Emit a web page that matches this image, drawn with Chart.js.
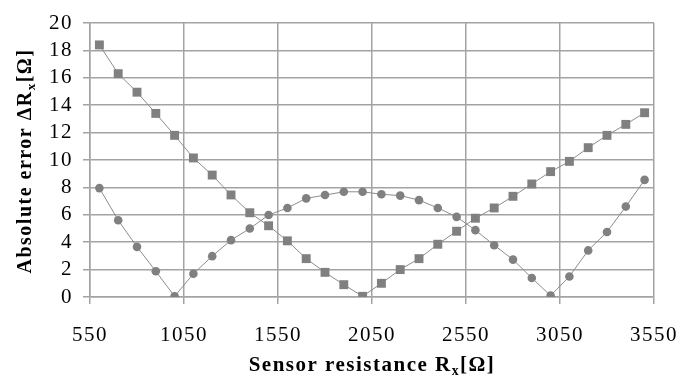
<!DOCTYPE html>
<html>
<head>
<meta charset="utf-8">
<script src="https://cdn.jsdelivr.net/npm/chart.js@4"></script>
<style>
  html, body { margin: 0; padding: 0; background: #fff; }
  #wrap { width: 681px; height: 378px; }
</style>
</head>
<body>
<div id="wrap"><canvas id="errChart"></canvas></div>
<script>
// resistance values (Ohm)
const resistance = [600, 700, 800, 900, 1000, 1100, 1200, 1300, 1400, 1500,
    1600, 1700, 1800, 1900, 2000, 2100, 2200, 2300, 2400, 2500,
    2600, 2700, 2800, 2900, 3000, 3100, 3200, 3300, 3400, 3500];

// absolute error, square markers
const errSquare = [18.4, 16.3, 14.95, 13.4, 11.8, 10.15, 8.9, 7.45, 6.15, 5.2,
    4.1, 2.8, 1.8, 0.9, 0.05, 1.0, 2.0, 2.8, 3.85, 4.8,
    5.75, 6.5, 7.35, 8.25, 9.15, 9.9, 10.9, 11.8, 12.6, 13.45];

// absolute error, circle markers
const errCircle = [7.95, 5.6, 3.66, 1.88, 0.05, 1.7, 2.98, 4.15, 5.0, 5.98,
    6.5, 7.2, 7.44, 7.68, 7.68, 7.5, 7.4, 7.07, 6.5, 5.85,
    4.88, 3.78, 2.73, 1.39, 0.1, 1.5, 3.4, 4.75, 6.6, 8.55];

const xTicks = [550, 1050, 1550, 2050, 2550, 3050, 3550];
const yTicks = [0, 2, 4, 6, 8, 10, 12, 14, 16, 18, 20];

const gridCol = '#a3a3a3';
const markCol = '#808080';
const serif = '"Liberation Serif", "Times New Roman", serif';

function toPoints(ys) {
    return resistance.map((x, i) => ({ x: x, y: ys[i] }));
}

// draw axis titles with a subscript x
function drawSubTitle(ctx, parts, size) {
    let total = 0;
    parts.forEach(p => {
        ctx.font = 'bold ' + (p.sub ? size * 0.65 : size) + 'px ' + serif;
        p.w = ctx.measureText(p.t).width;
        total += p.w;
    });
    let x = -total / 2;
    parts.forEach(p => {
        ctx.font = 'bold ' + (p.sub ? size * 0.65 : size) + 'px ' + serif;
        ctx.fillText(p.t, x, p.sub ? size * 0.28 : 0);
        x += p.w;
    });
}

const titlePlugin = {
    id: 'axisTitles',
    beforeDraw(chart) {
        // the scanned tick labels are spaced out a bit
        chart.ctx.letterSpacing = '1.5px';
    },
    afterDraw(chart) {
        const ctx = chart.ctx;
        ctx.save();
        ctx.fillStyle = '#000';
        ctx.textBaseline = 'middle';
        ctx.textAlign = 'left';
        ctx.letterSpacing = '1.5px';

        ctx.save();
        ctx.translate(372, 366);
        drawSubTitle(ctx, [{ t: 'Sensor resistance R' }, { t: 'x', sub: true }, { t: '[Ω]' }], 21);
        ctx.restore();

        ctx.save();
        ctx.translate(26, 161);
        ctx.rotate(-Math.PI / 2);
        drawSubTitle(ctx, [{ t: 'Absolute error ΔR' }, { t: 'x', sub: true }, { t: '[Ω]' }], 20);
        ctx.restore();

        ctx.restore();
        ctx.letterSpacing = '0px';
    }
};

new Chart(document.getElementById('errChart'), {
    type: 'line',
    data: {
        datasets: [{
            label: 'square',
            data: toPoints(errSquare),
            borderColor: '#8c8c8c',
            borderWidth: 1,
            pointStyle: 'rect',
            pointRadius: 6.3,
            pointBackgroundColor: markCol,
            pointBorderColor: markCol,
            pointBorderWidth: 0
        }, {
            label: 'circle',
            data: toPoints(errCircle),
            borderColor: '#8c8c8c',
            borderWidth: 1,
            pointStyle: 'circle',
            pointRadius: 4.3,
            pointBackgroundColor: markCol,
            pointBorderColor: markCol,
            pointBorderWidth: 0
        }]
    },
    options: {
        responsive: true,
        maintainAspectRatio: false,
        animation: false,
        layout: { padding: { top: 23, right: 27, left: 0, bottom: 0 } },
        plugins: {
            legend: { display: false },
            tooltip: { enabled: false }
        },
        scales: {
            x: {
                type: 'linear',
                min: xTicks[0],
                max: xTicks[xTicks.length - 1],
                afterFit: s => { s.height = 81; s.paddingRight = 0; s.paddingLeft = 0; },
                afterBuildTicks: s => { s.ticks = xTicks.map(v => ({ value: v })); },
                grid: { color: gridCol, lineWidth: 1.5, tickLength: 7 },
                border: { color: gridCol, width: 1.5 },
                ticks: {
                    padding: 19,
                    color: '#000',
                    maxRotation: 0,
                    autoSkip: false,
                    font: { family: serif, size: 21 },
                    callback: v => String(v)
                }
            },
            y: {
                min: yTicks[0],
                max: yTicks[yTicks.length - 1],
                afterFit: s => { s.width = 90; s.paddingTop = 0; s.paddingBottom = 0; },
                afterBuildTicks: s => { s.ticks = yTicks.map(v => ({ value: v })); },
                grid: { color: gridCol, lineWidth: 1.5, tickLength: 7 },
                border: { color: gridCol, width: 1.5 },
                ticks: {
                    padding: 10,
                    color: '#000',
                    autoSkip: false,
                    font: { family: serif, size: 21 },
                    callback: v => String(v)
                }
            }
        }
    },
    plugins: [titlePlugin]
});
</script>
</body>
</html>
